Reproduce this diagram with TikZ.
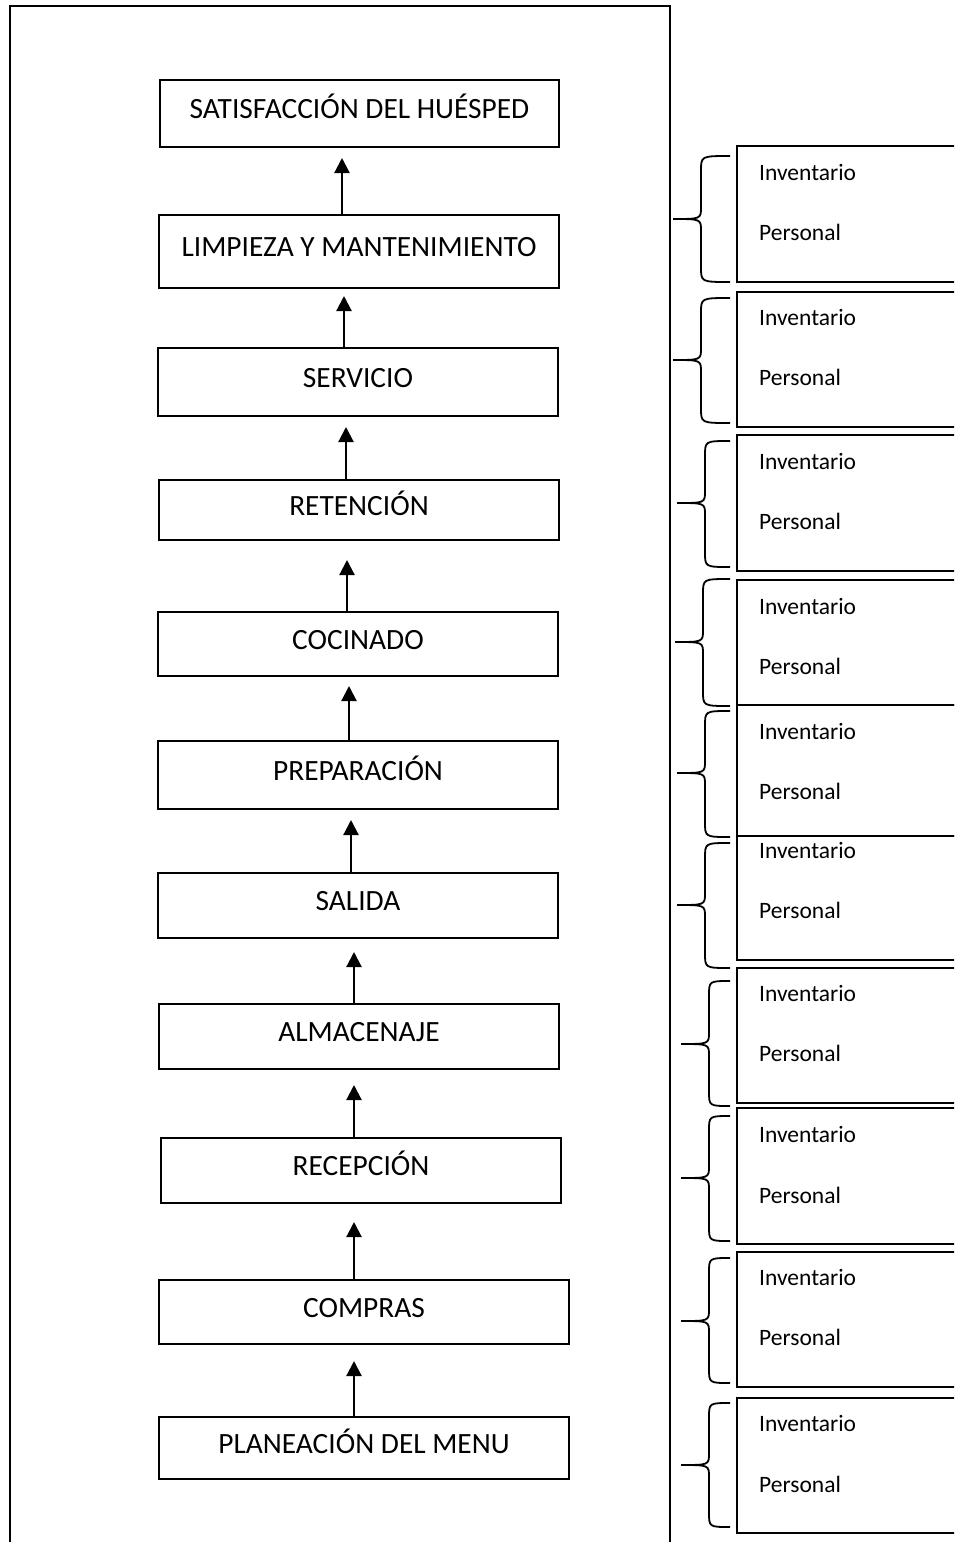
\documentclass[tikz,border=0pt]{standalone}
\usepackage{fontspec}
\setmainfont{Carlito}
\usetikzlibrary{arrows.meta,calc}
\begin{document}
\begin{tikzpicture}[x=1pt,y=-1pt,
  lbox/.style={draw,line width=1.6pt,inner sep=0pt,outer sep=0pt,
    font=\fontsize{29.4}{34}\selectfont,text height=1.05em,text depth=0pt},
  rbox/.style={draw,line width=1.7pt,inner sep=0pt,outer sep=0pt,anchor=north west,minimum width=240pt},
  rtext/.style={anchor=west,inner sep=0pt,yshift=-5pt,font=\fontsize{23.5}{28}\selectfont,text height=0.644em,text depth=0pt},
  arr/.style={line width=2.2pt,-{Triangle[width=15pt,length=15pt]}},
  bracepath/.style={line width=1.8pt},
  framepath/.style={line width=1.3pt}]
\useasboundingbox (0,0) rectangle (954,1542);
\clip (0,0) rectangle (954,1542);
\fill[white] (0,0) rectangle (954,1542);

% outer frame (open at the bottom)
\coordinate (fbl) at (10,1560);
\coordinate (ftl) at (10,6);
\coordinate (ftr) at (670,6);
\coordinate (fbr) at (670,1560);
\draw[framepath] (fbl) -- (ftl) -- (ftr) -- (fbr);

% left column
\node[lbox,minimum width=399pt,minimum height=67pt] (sat) at (359.5,113.5) {SATISFACCIÓN DEL HUÉSPED};
\node[lbox,minimum width=400pt,minimum height=73pt] (lim) at (359,251.5) {LIMPIEZA Y MANTENIMIENTO};
\node[lbox,minimum width=400pt,minimum height=68pt] (ser) at (358,382) {SERVICIO};
\node[lbox,minimum width=400pt,minimum height=60pt] (ret) at (359,510) {RETENCIÓN};
\node[lbox,minimum width=400pt,minimum height=64pt] (coc) at (358,644) {COCINADO};
\node[lbox,minimum width=400pt,minimum height=68pt] (pre) at (358,775) {PREPARACIÓN};
\node[lbox,minimum width=400pt,minimum height=65pt] (sal) at (358,905.5) {SALIDA};
\node[lbox,minimum width=400pt,minimum height=65pt] (alm) at (359,1036.5) {ALMACENAJE};
\node[lbox,minimum width=400pt,minimum height=65pt] (rec) at (361,1170.5) {RECEPCIÓN};
\node[lbox,minimum width=410pt,minimum height=64pt] (com) at (364,1312) {COMPRAS};
\node[lbox,minimum width=410pt,minimum height=62pt] (pla) at (364,1448) {PLANEACIÓN DEL MENU};

% arrows
\draw[arr,shorten >=11pt] (lim.north -| 342,0) -- (sat.south -| 342,0);
\draw[arr,shorten >=8pt]  (ser.north -| 344,0) -- (lim.south -| 344,0);
\draw[arr,shorten >=11pt] (ret.north -| 346,0) -- (ser.south -| 346,0);
\draw[arr,shorten >=20pt] (coc.north -| 347,0) -- (ret.south -| 347,0);
\draw[arr,shorten >=10pt] (pre.north -| 349,0) -- (coc.south -| 349,0);
\draw[arr,shorten >=11pt] (sal.north -| 351,0) -- (pre.south -| 351,0);
\draw[arr,shorten >=14pt] (alm.north -| 354,0) -- (sal.south -| 354,0);
\draw[arr,shorten >=16pt] (rec.north -| 354,0) -- (alm.south -| 354,0);
\draw[arr,shorten >=19pt] (com.north -| 354,0) -- (rec.south -| 354,0);
\draw[arr,shorten >=17pt] (pla.north -| 354,0) -- (com.south -| 354,0);

% right column boxes with texts
\foreach \t/\b/\yi/\yp [count=\i] in {
  146/282/172/232, 292/427/317/377, 435/571/461/521, 580/705/606/666,
  705/836/731/791, 836/960/850/910, 968/1103/993/1053, 1108/1244/1134/1195,
  1252/1387/1277/1337, 1398/1533/1423/1484}{
  \pgfmathsetmacro\hh{\b-\t}
  \node[rbox,minimum height=\hh pt] (r\i) at (737,\t) {};
  \node[rtext] (inv\i) at (759,\yi) {Inventario};
  \node[rtext] (per\i) at (759,\yp) {Personal};
}

% braces
\foreach \t/\m/\b/\xt in {
  156/219/282/673, 298/360/423/673, 441/503/567/677, 579/642/706/675,
  711/773/837/677, 843/905/968/677, 981/1044/1106/681, 1116/1178/1241/681,
  1258/1321/1383/681, 1403/1465/1527/681}{
  \pgfmathsetmacro\xv{\xt+28}
  \draw[bracepath] (730,\t) .. controls (\xv,\t) .. (\xv,\t+15)
    -- (\xv,\m-12) .. controls (\xv,\m) .. (\xt,\m)
    .. controls (\xv,\m) .. (\xv,\m+12)
    -- (\xv,\b-15) .. controls (\xv,\b) .. (730,\b);
}
\end{tikzpicture}
\end{document}
